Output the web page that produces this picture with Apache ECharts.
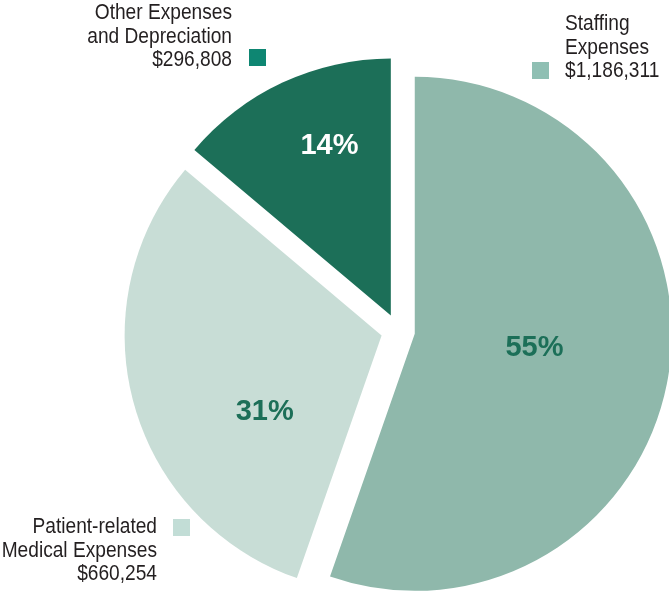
<!DOCTYPE html>
<html>
<head>
<meta charset="utf-8">
<script src="https://cdn.jsdelivr.net/npm/echarts@6/dist/echarts.min.js"></script>
<style>
html,body{margin:0;padding:0;background:#fff;}
#chart{width:669px;height:591px;}
</style>
</head>
<body>
<div id="chart"></div>
<script>
const categories = ['Staffing Expenses', 'Patient-related Medical Expenses', 'Other Expenses and Depreciation'];
const values = [1186311, 660254, 296808];
const percentLabels = ['55%', '31%', '14%'];
const amountLabels = ['$1,186,311', '$660,254', '$296,808'];

const sliceColors = ['#8fb8ab', '#c8ddd6', '#1c6f58'];
const labelColors = ['#1c6f58', '#1c6f58', '#ffffff'];
const FONT = '"Liberation Sans", Arial, sans-serif';

const chart = echarts.init(document.getElementById('chart'), null, {renderer: 'canvas'});

const data = categories.map((c, i) => ({
  name: c,
  value: values[i],
  selected: true,
  itemStyle: {color: sliceColors[i]},
  label: {color: labelColors[i]}
}));

const labelShift = [[-10, -8], [10, 42], [-6, -50]];

function note(x, y, align, text) {
  return {type: 'text', x: x, y: y, scaleX: 0.87, style: {
    x: 0, y: 0, text: text, font: '22px ' + FONT, fill: '#231f20',
    align: align, verticalAlign: 'top', lineHeight: 23.5}};
}

chart.setOption({
  animation: false,
  series: [{
    type: 'pie',
    center: [398, 331],
    radius: [0, 257],
    startAngle: 90,
    clockwise: true,
    selectedMode: 'multiple',
    selectedOffset: 17,
    silent: true,
    emphasis: {disabled: true},
    label: {
      show: true,
      position: 'inside',
      fontFamily: FONT,
      fontWeight: 'bold',
      fontSize: 29,
      formatter: p => percentLabels[p.dataIndex]
    },
    labelLine: {show: false},
    labelLayout: p => ({dx: labelShift[p.dataIndex][0], dy: labelShift[p.dataIndex][1]}),
    data: data
  }],
  graphic: [
    note(232, 1.5, 'right', 'Other Expenses\nand Depreciation\n' + amountLabels[2]),
    {type: 'rect', shape: {x: 249, y: 49, width: 17, height: 17}, style: {fill: '#0e8672'}},
    note(565, 12.5, 'left', 'Staffing\nExpenses\n' + amountLabels[0]),
    {type: 'rect', shape: {x: 532, y: 62, width: 17, height: 17}, style: {fill: '#8fbfb3'}},
    note(157, 515.5, 'right', 'Patient-related\nMedical Expenses\n' + amountLabels[1]),
    {type: 'rect', shape: {x: 173, y: 519, width: 17, height: 17}, style: {fill: '#c2ddd6'}}
  ]
});
</script>
</body>
</html>
